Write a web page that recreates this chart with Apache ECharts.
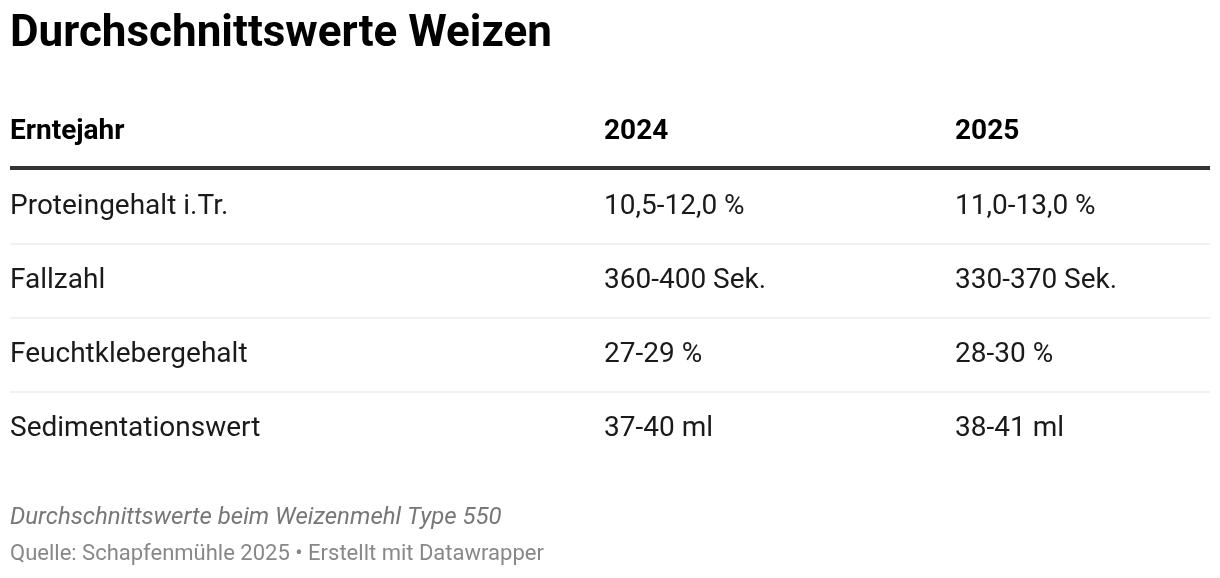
<!DOCTYPE html>
<html><head><meta charset="utf-8">
<script src="https://cdn.jsdelivr.net/npm/echarts@6/dist/echarts.min.js"></script>
<style>html,body{margin:0;padding:0;background:#fff}#c{width:1220px;height:578px}</style>
</head><body><div id="c"></div>
<script>
const title = "Durchschnittswerte Weizen";
const headers = ["Erntejahr", "2024", "2025"];
const rowLabels = ["Proteingehalt i.Tr.", "Fallzahl", "Feuchtklebergehalt", "Sedimentationswert"];
const values2024 = ["10,5-12,0 %", "360-400 Sek.", "27-29 %", "37-40 ml"];
const values2025 = ["11,0-13,0 %", "330-370 Sek.", "28-30 %", "38-41 ml"];
const note = "Durchschnittswerte beim Weizenmehl Type 550";
const source = "Quelle: Schapfenmühle 2025 • Erstellt mit Datawrapper";

const F = "Roboto, 'Noto Sans', sans-serif";
const colX = [10, 604, 955];
const left = 10, right = 1210;
const headY = 132, lineY = 168, rowY0 = 207, rowH = 74;
const els = [];
els.push({type:'text', left:left, top:13, style:{text:title, font:`bold 44px ${F}`, fill:'#000'}});
headers.forEach((h,i)=>els.push({type:'text', x:colX[i], y:headY, style:{text:h, font:`bold 28px ${F}`, fill:'#000', verticalAlign:'middle'}}));
els.push({type:'rect', shape:{x:left, y:lineY-2, width:right-left, height:4}, style:{fill:'#333'}});
rowLabels.forEach((lab,r)=>{
  const y = rowY0 + r*rowH;
  [lab, values2024[r], values2025[r]].forEach((t,i)=>els.push({type:'text', x:colX[i], y:y, style:{text:t, font:`28px ${F}`, fill:'#1a1a1a', verticalAlign:'middle'}}));
  if (r < rowLabels.length-1) els.push({type:'rect', shape:{x:left, y:y+rowH/2-0.5, width:right-left, height:1}, style:{fill:'#e3e3e3'}});
});
els.push({type:'text', x:left, y:518, style:{text:note, font:`italic 24px ${F}`, fill:'#777', verticalAlign:'middle'}});
els.push({type:'text', x:left, y:554, style:{text:source, font:`22px ${F}`, fill:'#888', verticalAlign:'middle'}});
const chart = echarts.init(document.getElementById('c'));
chart.setOption({animation:false, graphic:{elements:els}});
</script></body></html>
